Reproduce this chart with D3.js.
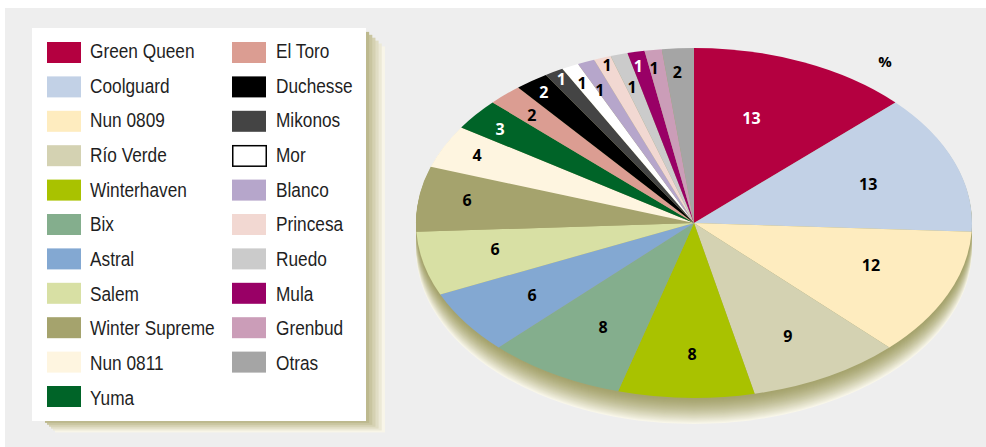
<!DOCTYPE html>
<html><head><meta charset="utf-8">
<script src="https://cdn.jsdelivr.net/npm/d3@7"></script>
<style>html,body{margin:0;padding:0;background:#fff}svg{display:block}</style>
</head><body><svg id="c" width="986" height="447"></svg>
<script>
const names=["Green Queen","Coolguard","Nun 0809","Río Verde","Winterhaven","Bix","Astral","Salem","Winter Supreme","Nun 0811","Yuma","El Toro","Duchesse","Mikonos","Mor","Blanco","Princesa","Ruedo","Mula","Grenbud","Otras"];
const shares=[12.9,12.9,11.8,8.9,7.9,8,5.9,5.9,6,4,2.9,2,1.95,1.1,1,1,1,1,1,1,1.85];
const shownLabels=[13,13,12,9,8,8,6,6,6,4,3,2,2,1,1,1,1,1,1,1,2];
const colors=["#b40040","#c2d1e6","#feecbf","#d4d2b2","#a9c200","#84ae8d","#83a8d2","#d8e0a4","#a5a36d","#fef5e0","#006428","#db9d92","#000000","#444444","#ffffff","#b6a6cb","#f2d8d2","#cbcbcb","#990066","#cb9db8","#a5a5a5"];
const lightText=["Green Queen","Yuma","Duchesse","Mikonos","Mula"];
// label placement: angle (deg clockwise from top) and fraction of radius
const labelAngle=[19,70.4,110.6,152.4,180.5,208.8,234.8,258.2,279.1,296.5,307.6,316.6,324.2,329.9,333.3,336,340.9,344,347.4,350.8,356];
const labelRadial=[.635,.665,.68,.729,.749,.678,.713,.731,.827,.872,.881,.849,.923,.952,.896,.832,.956,.808,.919,.898,.865];

const W=986,H=447,cx=694,cy=223,rx=278,ry=175,depth=26;
const FONT='"Liberation Sans",sans-serif';
const svg=d3.select("#c");
svg.append("rect").attr("x",5).attr("y",8).attr("width",W-5).attr("height",H-8).attr("fill","#eeeeee");

// legend panel with stepped shadow
const panel={x:32,y:28,w:334,h:393};
const shadowStep=d3.interpolateRgb("#bdb98e","#f8f5e8");
d3.range(6,0,-1).forEach(i=>{
  const x0=panel.x+11+2*i, y0=panel.y+1+2.9*i;
  const x1=panel.x+panel.w+3.15*i, y1=panel.y+panel.h+1.9*i;
  svg.append("rect").attr("x",x0).attr("y",y0).attr("width",x1-x0).attr("height",y1-y0)
    .attr("fill",shadowStep((i-1)/5));
});
svg.append("rect").attr("x",panel.x).attr("y",panel.y).attr("width",panel.w).attr("height",panel.h).attr("fill","#fff");

const swatchY=d3.scaleLinear().domain([0,10]).range([52.5,396.5]);
const textY=d3.scaleLinear().domain([0,10]).range([58,404.5]);
const splitAt=11;
const row=i=>i<splitAt?i:i-splitAt;
const lg=svg.append("g").selectAll("g").data(names).join("g");
lg.append("rect")
  .attr("x",(d,i)=>(i<splitAt?47:232)+(d==="Mor"?.75:0))
  .attr("y",(d,i)=>swatchY(row(i))-(d==="Mor"?10:10.5))
  .attr("width",d=>d==="Mor"?33.5:34).attr("height",d=>d==="Mor"?20.5:21)
  .attr("fill",(d,i)=>colors[i]).attr("stroke",d=>d==="Mor"?"#000":"none").attr("stroke-width",1.5);
lg.append("text").attr("transform",(d,i)=>`translate(${i<splitAt?90:276},${textY(row(i))}) scale(.885,1)`).text(d=>d)
  .attr("font-family",FONT).attr("font-size",19.5).attr("fill","#1f1f1f");

// pie
const pieLayout=d3.pie().sort(null).value(d=>d)(shares);
const sideColor=d3.interpolateRgb("#a5a36d","#f8f6ea");
const sideG=svg.append("g");
d3.range(depth,0,-1).forEach(o=>{
  sideG.append("ellipse").attr("cx",cx).attr("cy",cy+o).attr("rx",rx).attr("ry",ry)
    .attr("fill",sideColor(Math.pow(o/depth,1.4)));
});
const arc=d3.arc().innerRadius(0).outerRadius(rx);
svg.append("g").attr("transform",`translate(${cx},${cy}) scale(1,${ry/rx})`)
  .selectAll("path").data(pieLayout).join("path").attr("d",arc).attr("fill",(d,i)=>colors[i]);

svg.append("g").selectAll("text").data(shownLabels).join("text")
  .attr("x",(d,i)=>cx+rx*labelRadial[i]*Math.sin(labelAngle[i]*Math.PI/180))
  .attr("y",(d,i)=>cy-ry*labelRadial[i]*Math.cos(labelAngle[i]*Math.PI/180)+5.7)
  .attr("text-anchor","middle").attr("font-family",'"Open Sans",sans-serif').attr("font-weight",700).attr("font-size",16)
  .attr("fill",(d,i)=>lightText.includes(names[i])?"#fff":"#000").text(d=>d);
svg.append("text").attr("x",885).attr("y",67).attr("text-anchor","middle").attr("font-family",'"Open Sans",sans-serif').attr("font-weight",700).attr("font-size",15).attr("fill","#000").text("%");
</script></body></html>
